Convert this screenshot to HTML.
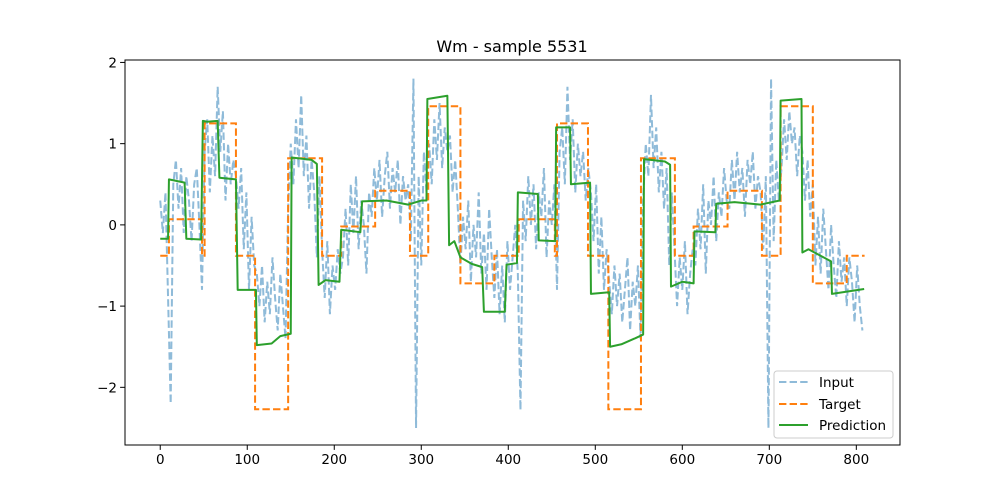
<!DOCTYPE html>
<html><head><meta charset="utf-8"><style>
body{margin:0;background:#fff;}
svg{display:block;font-family:"DejaVu Sans","Liberation Sans",sans-serif;}
</style></head><body>
<svg id="chart" width="1000" height="500" viewBox="0 0 1000 500" xmlns="http://www.w3.org/2000/svg">
<rect x="0" y="0" width="1000" height="500" fill="#fff"/>
<text x="512" y="52" text-anchor="middle" font-size="16" fill="#000">Wm - sample 5531</text>
<g id="plot"></g>
<g id="axes"></g>
<g id="legend">
<rect x="774" y="371" width="119" height="67" rx="3" fill="#fff" fill-opacity="0.8" stroke="#ccc"/>
<line x1="779" y1="382" x2="808" y2="382" stroke="#1f77b4" stroke-opacity="0.5" stroke-width="2" stroke-dasharray="7.4,3.2"/>
<text x="819" y="387" font-size="13.5">Input</text>
<line x1="779" y1="404" x2="808" y2="404" stroke="#ff7f0e" stroke-width="2" stroke-dasharray="7.4,3.2"/>
<text x="819" y="409" font-size="13.5">Target</text>
<line x1="779" y1="425" x2="808" y2="425" stroke="#2ca02c" stroke-width="2"/>
<text x="819" y="430" font-size="13.5">Prediction</text>
</g>
</svg>
<script>
const inputY = [0.3,-0.1,0.4,-0.9,
-2.2,0.5,0.8,0.2,0.7,-0.1,0.6,0.3,-0.2,0.5,0.7,0.0,
-0.8,0.9,1.3,0.4,1.1,0.6,1.7,0.9,1.4,0.3,1.0,0.5,0.8,
0.6,0.2,0.7,-0.3,0.4,-0.8,0.1,-0.5,
-0.6,-1.0,-0.5,-1.2,-0.7,-1.1,-0.4,-0.9,-1.3,-0.6,-1.0,-1.4,
0.2,1.0,0.5,1.3,0.7,1.6,0.6,1.1,0.2,0.8,0.4,-0.4,0.6,
-0.3,-0.9,-0.2,-1.1,-0.5,-0.8,-0.3,-0.6,
-0.4,0.2,-0.5,0.5,-0.1,0.6,-0.3,0.3,0.0,-0.6,0.4,0.1,0.7,
0.3,0.8,0.1,0.6,0.9,0.2,0.7,0.4,0.8,0.0,0.6,0.3,0.5,
-0.2,1.8,-2.5,0.6,-0.5,0.9,0.4,
1.0,0.5,1.3,0.8,1.5,0.7,1.2,0.9,1.1,0.4,0.8,0.2,
-0.5,0.1,-0.3,0.3,-0.7,0.0,-0.4,0.4,-0.6,-0.1,-0.8,0.2,-0.4,
-0.9,-0.3,-1.1,-0.5,-1.2,-0.2,-0.8,-0.4,0.0,
-0.6,-2.28,0.3,-0.2,0.6,0.0,0.5,-0.3,0.4,0.1,0.7,-0.4,0.3,0.0,0.5,
-0.8,0.9,1.2,0.5,1.7,0.8,1.3,0.4,1.0,0.6,0.9,0.3,0.7,
0.4,-0.2,0.5,-0.6,0.1,-0.8,-0.3,
-0.7,-1.1,-0.5,-1.0,-0.6,-1.2,-0.8,-0.4,-1.3,-0.7,-1.0,-0.5,-1.4,
0.3,1.0,0.6,1.6,0.7,1.2,0.4,0.9,0.2,0.7,-0.5,0.4,
-0.3,-1.0,-0.4,-0.8,-0.2,-1.1,-0.6,-0.3,
-0.5,0.2,-0.3,0.5,-0.6,0.3,0.0,0.6,-0.2,0.4,0.1,0.7,0.3,
0.2,0.8,0.3,0.9,0.4,0.7,0.1,0.8,0.5,0.9,0.2,0.6,0.4,
-0.3,0.6,-2.5,1.8,-0.2,0.8,0.3,
0.7,1.3,0.8,1.4,1.0,1.2,0.6,1.1,0.9,0.3,0.8,0.1,0.5,
-0.5,0.1,-0.6,0.2,-0.3,-0.8,0.0,-0.5,-0.9,-0.2,-0.7,-0.4,
-1.0,-0.4,-0.7,-1.2,-0.5,-1.0,-1.3];
const inputStep = 3;
const targetStart = [0,10,48,51,87,109,147,186,208,247,287,308,345,384,412,453.5,456,491.6,515,552.5,591.5,613,652,691.5,713,750,789];
const targetValue = [-0.38,0.07,-0.38,1.25,-0.38,-2.27,0.82,-0.38,-0.02,0.42,-0.38,1.46,-0.72,-0.38,0.07,-0.38,1.25,-0.38,-2.27,0.82,-0.38,-0.02,0.42,-0.38,1.46,-0.72,-0.38];
const targetEnd = 809.5;
const predX = [0,9,10,28,30,47,49,54,66,68,87,89,110,111,128,138,150,151,174,180,182,190,206,208,230,232,260,285,300,306,307,330,332,338,345,358,370,372,396,398,410,411,434,435,454,455,471,472,494,495,516,517,530,545,555,556,580,586,587,600,613,614,638,639,660,690,712,713,737,738,745,771,772,790,809];
const predY = [-0.17,-0.17,0.56,0.52,-0.17,-0.18,1.28,1.27,1.28,0.58,0.56,-0.8,-0.8,-1.48,-1.46,-1.37,-1.34,0.83,0.8,0.75,-0.74,-0.68,-0.7,-0.06,-0.09,0.29,0.3,0.25,0.3,0.3,1.55,1.59,-0.25,-0.2,-0.4,-0.48,-0.52,-1.07,-1.07,-0.49,-0.47,0.4,0.38,-0.19,-0.2,1.2,1.2,0.5,0.52,-0.85,-0.83,-1.5,-1.47,-1.4,-1.35,0.81,0.78,0.74,-0.76,-0.7,-0.72,-0.08,-0.09,0.26,0.28,0.25,0.3,1.53,1.55,-0.34,-0.3,-0.45,-0.85,-0.82,-0.79];
const xTicks = [0,100,200,300,400,500,600,700,800];
const yTicks = [-2,-1,0,1,2];

const L=125,R=900,T=60,B=445;
const xMin=-40.5,xMax=850.2,yMin=-2.71,yMax=2.03;
function sx(v){return L+(v-xMin)/(xMax-xMin)*(R-L);}
function sy(v){return B-(v-yMin)/(yMax-yMin)*(B-T);}
const NS='http://www.w3.org/2000/svg';
const plot=document.getElementById('plot'), axes=document.getElementById('axes');
function mk(tag,attrs,parent){const e=document.createElementNS(NS,tag);for(const k in attrs)e.setAttribute(k,attrs[k]);parent.appendChild(e);return e;}

const cp=mk('clipPath',{id:'clip'},plot);mk('rect',{x:L,y:T,width:R-L,height:B-T},cp);
const g=mk('g',{'clip-path':'url(#clip)'},plot);

let d='';inputY.forEach((v,i)=>{d+=(i?'L':'M')+sx(i*inputStep).toFixed(2)+','+sy(v).toFixed(2);});
const pIn=mk('path',{d:d,fill:'none',stroke:'#1f77b4','stroke-opacity':0.5,'stroke-width':2,'stroke-dasharray':'7.4,3.2'},g);



d='';targetStart.forEach((s,i)=>{const e=i<targetStart.length-1?targetStart[i+1]:targetEnd;d+=(i?'L':'M')+sx(s).toFixed(2)+','+sy(targetValue[i]).toFixed(2)+'L'+sx(e).toFixed(2)+','+sy(targetValue[i]).toFixed(2);});
const pT=mk('path',{d:d,fill:'none',stroke:'#ff7f0e','stroke-width':2,'stroke-dasharray':'7.4,3.2'},g);



d='';predX.forEach((x,i)=>{d+=(i?'L':'M')+sx(x).toFixed(2)+','+sy(predY[i]).toFixed(2);});
const pP=mk('path',{d:d,fill:'none',stroke:'#2ca02c','stroke-width':2,'stroke-linejoin':'round'},g);



const frame=mk('rect',{x:L,y:T,width:R-L,height:B-T,fill:'none',stroke:'#000','stroke-width':1},axes);


xTicks.forEach(t=>{const x=sx(t);
 const tk=mk('line',{x1:x,y1:B,x2:x,y2:B+4.9,stroke:'#000','stroke-width':1},axes);
 
 
 const tx=mk('text',{x:x,y:B+19,'text-anchor':'middle','font-size':13.5},axes);tx.textContent=t;
 
 });
yTicks.forEach(t=>{const y=sy(t);
 const tk=mk('line',{x1:L-4.9,y1:y,x2:L,y2:y,stroke:'#000','stroke-width':1},axes);
 
 
 const tx=mk('text',{x:L-8,y:y+5,'text-anchor':'end','font-size':13.5},axes);tx.textContent=(t<0?'\u2212'+(-t):t);
 
 });
</script>
</body></html>
